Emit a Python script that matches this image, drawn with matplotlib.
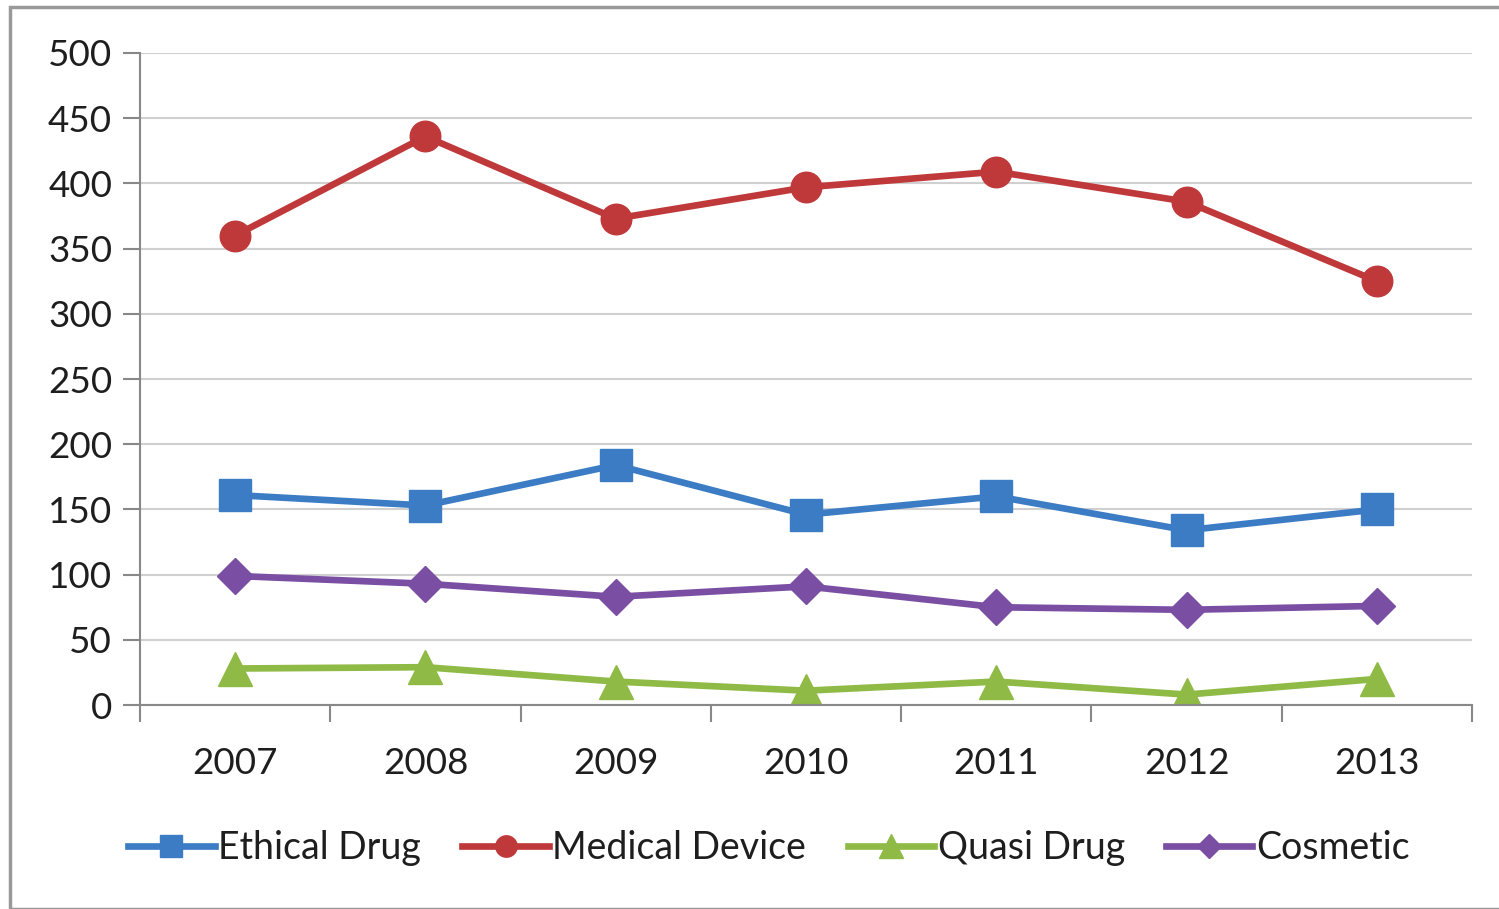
import matplotlib.pyplot as plt
from matplotlib.patches import Rectangle

years = ['2007', '2008', '2009', '2010', '2011', '2012', '2013']
ethical_drug = [161, 153, 184, 146, 160, 134, 150]
medical_device = [360, 436, 373, 397, 409, 386, 325]
quasi_drug = [28, 29, 18, 11, 18, 8, 20]
cosmetic = [99, 93, 83, 91, 75, 73, 76]

series = [
    ('Ethical Drug', ethical_drug, '#3b7cc4', 's', 23),
    ('Medical Device', medical_device, '#c0393a', 'o', 22),
    ('Quasi Drug', quasi_drug, '#8fba45', '^', 24),
    ('Cosmetic', cosmetic, '#7a4ea3', 'D', 18),
]

plt.rcParams['font.family'] = ['Lato', 'DejaVu Sans']


def main():
    fig = plt.figure(figsize=(14.99, 9.09), dpi=100)
    ax = fig.add_axes([0.0934, 0.2244, 0.8886, 0.7173])

    x = list(range(len(years)))
    for label, vals, color, marker, ms in series:
        ax.plot(x, vals, color=color, lw=4.8, marker=marker, ms=ms,
                label=label, solid_joinstyle='round')

    ax.set_xlim(-0.5, len(years) - 0.5)
    ax.set_ylim(0, 500)
    ax.set_yticks(range(0, 501, 50))
    ax.set_xticks(x)
    ax.set_xticklabels(years)
    ax.set_xticks([i - 0.5 for i in range(len(years) + 1)], minor=True)
    ax.tick_params(axis='x', which='major', length=0, pad=30,
                   labelsize=26.5, labelcolor='#1e1e1e')
    ax.tick_params(axis='x', which='minor', length=12, width=1.5,
                   color='#888888')
    ax.tick_params(axis='y', length=12, width=1.5, color='#888888',
                   pad=8, labelsize=26.5, labelcolor='#1e1e1e')

    ax.grid(axis='y', color='#d0d0d0', lw=1.5)
    ax.set_axisbelow(True)
    for s in ('top', 'right'):
        ax.spines[s].set_visible(False)
    for s in ('left', 'bottom'):
        ax.spines[s].set_color('#888888')
        ax.spines[s].set_linewidth(1.5)

    leg = fig.legend(loc='center', bbox_to_anchor=(0.513, 0.067), ncol=4,
                     frameon=False, fontsize=27, handlelength=2.3,
                     handletextpad=0.1, columnspacing=1.1, markerscale=0.7)
    for t in leg.get_texts():
        t.set_color('#1e1e1e')

    fig.patches.append(Rectangle((0.007, 0.0), 0.995, 0.992,
                                 transform=fig.transFigure, fill=False,
                                 edgecolor='#999999', lw=2.5))

    fig.savefig('out.png', dpi=100)


if __name__ == '__main__':
    main()
